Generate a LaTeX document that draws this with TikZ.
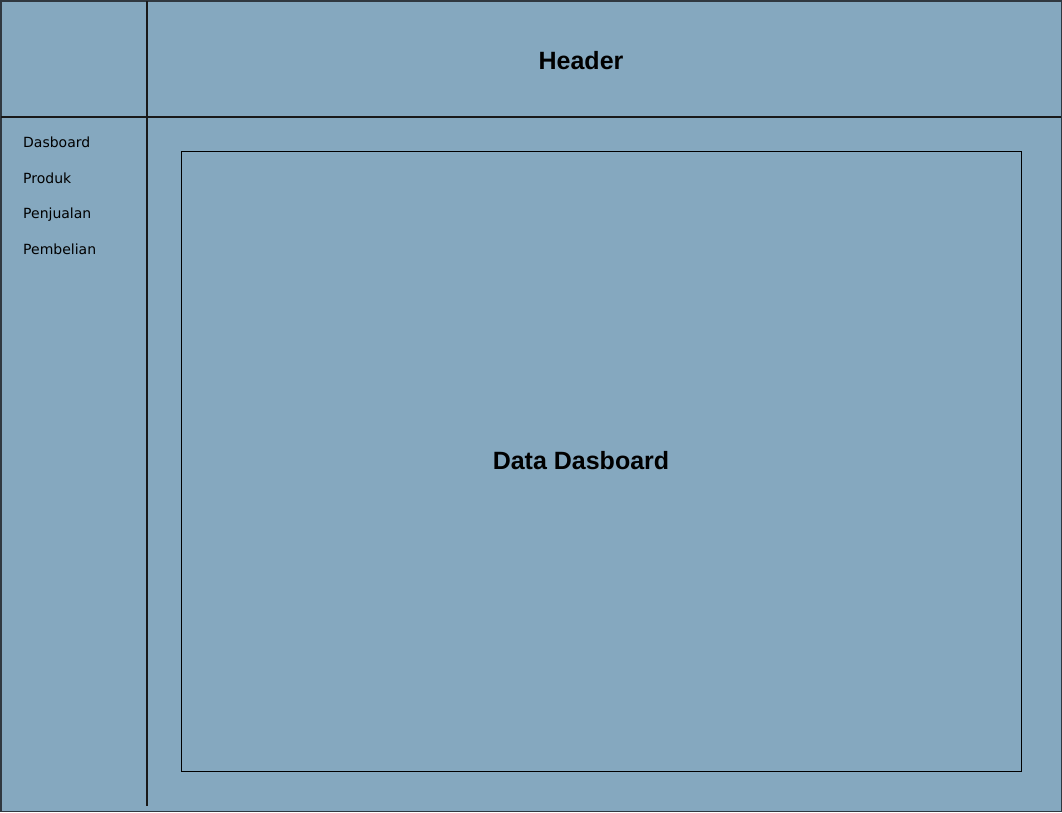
\documentclass[tikz,border=0pt]{standalone}
\usepackage{fontspec}
\setmainfont{Liberation Sans}
\newfontfamily\menufont{DejaVu Sans}
\definecolor{panel}{HTML}{85A8BF}
\definecolor{edge}{HTML}{303840}
\tikzset{
  menuitem/.style={anchor=base west, inner sep=0pt, font=\menufont\fontsize{14}{16}\selectfont},
  bigtitle/.style={inner sep=0pt, font=\bfseries\fontsize{25}{29}\selectfont},
  divider/.style={line width=2pt, color=black!90},
}
\begin{document}
\begin{tikzpicture}[x=1pt,y=-1pt]
\useasboundingbox (0,0) rectangle (1062,812);
\draw[fill=panel, draw=edge, line width=1.5pt] (0.75,0.75) rectangle (1061.25,811.25);
\coordinate (hl) at (1,116.5);
\coordinate (hr) at (1061,116.5);
\coordinate (vt) at (146.5,1);
\coordinate (vb) at (146.5,806);
\draw[divider] (hl) -- (hr);
\draw[divider] (vt) -- (vb);
\node[draw=black, line width=1pt, minimum width=840pt, minimum height=620pt, inner sep=0pt] (content) at (601,461) {};
\node[bigtitle] (header) at (581,61) {Header};
\node[bigtitle] (data) at (581,461) {Data Dasboard};
\node[menuitem] (m1) at (23,147) {Dasboard};
\node[menuitem] (m2) at (23,183) {Produk};
\node[menuitem] (m3) at (23,218) {Penjualan};
\node[menuitem] (m4) at (23,254) {Pembelian};
\end{tikzpicture}
\end{document}
